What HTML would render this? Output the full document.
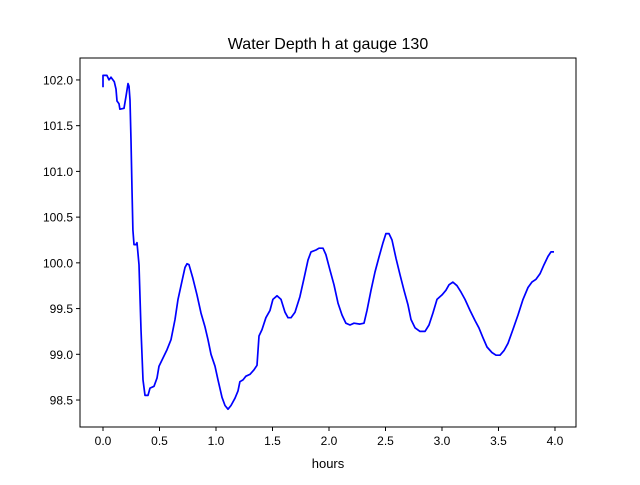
<!DOCTYPE html>
<html>
<head>
<meta charset="utf-8">
<style>
  html,body{margin:0;padding:0;background:#fff;}
  svg text{font-family:"Liberation Sans","DejaVu Sans",sans-serif;}
</style>
</head>
<body>
<svg id="chart" width="640" height="480" xmlns="http://www.w3.org/2000/svg">
  <rect x="0" y="0" width="640" height="480" fill="#fff"/>
  <text x="328" y="49" text-anchor="middle" font-size="16" fill="#000">Water Depth h at gauge 130</text>
  <g id="plot"></g>
  <text x="328" y="468" text-anchor="middle" font-size="13" fill="#000">hours</text>
</svg>
<script>
const hours = [0,0,0.035,0.053,0.071,0.1,0.115,0.124,0.142,0.15,0.186,0.204,0.221,0.23,0.239,0.248,0.257,0.265,0.274,0.292,0.301,0.319,0.336,0.354,0.372,0.398,0.416,0.451,0.478,0.496,0.531,0.566,0.602,0.637,0.664,0.699,0.726,0.743,0.761,0.796,0.832,0.867,0.903,0.929,0.956,0.991,1.018,1.053,1.08,1.106,1.133,1.168,1.195,1.212,1.239,1.265,1.3,1.336,1.363,1.381,1.407,1.442,1.478,1.504,1.54,1.575,1.611,1.637,1.664,1.699,1.743,1.779,1.814,1.841,1.885,1.912,1.947,1.973,2.009,2.044,2.08,2.115,2.15,2.186,2.221,2.274,2.31,2.336,2.372,2.407,2.442,2.478,2.504,2.531,2.558,2.593,2.628,2.664,2.699,2.726,2.761,2.805,2.85,2.885,2.92,2.956,3.0,3.035,3.062,3.097,3.133,3.168,3.204,3.248,3.292,3.327,3.363,3.398,3.442,3.478,3.513,3.549,3.584,3.628,3.673,3.717,3.761,3.796,3.832,3.867,3.903,3.938,3.965,3.991];
const depth = [101.92,102.05,102.05,102.0,102.03,101.98,101.9,101.77,101.74,101.68,101.69,101.82,101.96,101.93,101.78,101.34,100.8,100.36,100.2,100.2,100.22,99.98,99.27,98.72,98.55,98.55,98.63,98.65,98.74,98.87,98.96,99.05,99.16,99.38,99.6,99.8,99.95,99.99,99.98,99.83,99.65,99.45,99.3,99.16,99.0,98.87,98.72,98.53,98.44,98.4,98.44,98.52,98.6,98.7,98.72,98.76,98.78,98.83,98.88,99.2,99.27,99.4,99.48,99.6,99.64,99.6,99.46,99.4,99.4,99.46,99.63,99.83,100.03,100.12,100.14,100.16,100.16,100.09,99.92,99.76,99.56,99.43,99.34,99.32,99.34,99.33,99.34,99.48,99.7,99.9,100.06,100.22,100.32,100.32,100.25,100.05,99.87,99.7,99.54,99.38,99.29,99.25,99.25,99.32,99.45,99.6,99.65,99.7,99.76,99.79,99.75,99.68,99.6,99.48,99.37,99.29,99.18,99.08,99.02,98.99,98.99,99.04,99.12,99.27,99.43,99.6,99.73,99.79,99.82,99.88,99.98,100.07,100.12,100.12];
const xTicks = [0,0.5,1,1.5,2,2.5,3,3.5,4];
const xTickLabels = ["0.0","0.5","1.0","1.5","2.0","2.5","3.0","3.5","4.0"];
const yTicks = [98.5,99,99.5,100,100.5,101,101.5,102];
const yTickLabels = ["98.5","99.0","99.5","100.0","100.5","101.0","101.5","102.0"];

const L=80,R=576,T=58,B=427;
const xMin=-0.2035,xMax=4.186,yMin=98.205,yMax=102.24;
const sx=v=>L+(v-xMin)/(xMax-xMin)*(R-L);
const sy=v=>B-(v-yMin)/(yMax-yMin)*(B-T);
const NS="http://www.w3.org/2000/svg";
const g=document.getElementById('plot');
function mk(tag,attrs){const e=document.createElementNS(NS,tag);for(const k in attrs)e.setAttribute(k,attrs[k]);g.appendChild(e);return e;}

// series
const d=hours.map((h,i)=>(i?'L':'M')+sx(h).toFixed(1)+' '+sy(depth[i]).toFixed(1)).join(' ');
const line=mk('path',{d:d,fill:'none',stroke:'#0000ff','stroke-width':1.7,'stroke-linejoin':'round'});



// axes frame
const frame=mk('rect',{x:L,y:T,width:R-L,height:B-T,fill:'none',stroke:'#000','stroke-width':1});



xTicks.forEach((v,i)=>{
  const x=sx(v);
  const t=mk('line',{x1:x,x2:x,y1:B,y2:B+4,stroke:'#000'});
  
  
  const lb=mk('text',{x:x,y:B+18,'text-anchor':'middle','font-size':12,fill:'#000'});
  lb.textContent=xTickLabels[i];
  
  
});
yTicks.forEach((v,i)=>{
  const y=sy(v);
  const t=mk('line',{x1:L-4,x2:L,y1:y,y2:y,stroke:'#000'});
  
  
  const lb=mk('text',{x:L-7,y:y+4.5,'text-anchor':'end','font-size':12,fill:'#000'});
  lb.textContent=yTickLabels[i];
  
  
});
</script>
</body>
</html>
